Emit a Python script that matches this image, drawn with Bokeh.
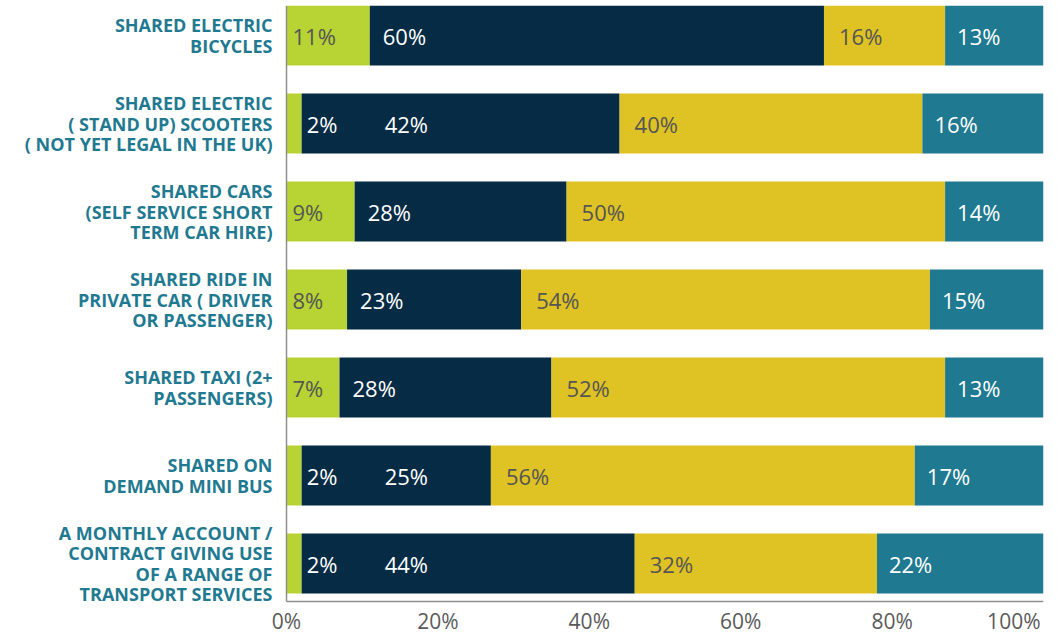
from bokeh.plotting import figure
from bokeh.models import ColumnDataSource, Range1d, FixedTicker
from bokeh.core.properties import value
from bokeh.embed import file_html
from bokeh.resources import INLINE

categories = [
    "SHARED ELECTRIC\nBICYCLES",
    "SHARED ELECTRIC\n( STAND UP) SCOOTERS\n( NOT YET LEGAL IN THE UK)",
    "SHARED CARS\n(SELF SERVICE SHORT\nTERM CAR HIRE)",
    "SHARED RIDE IN\nPRIVATE CAR ( DRIVER\nOR PASSENGER)",
    "SHARED TAXI (2+\nPASSENGERS)",
    "SHARED ON\nDEMAND MINI BUS",
    "A MONTHLY ACCOUNT /\nCONTRACT GIVING USE\nOF A RANGE OF\nTRANSPORT SERVICES",
]
series_a = [11, 2, 9, 8, 7, 2, 2]
series_b = [60, 42, 28, 23, 28, 25, 44]
series_c = [16, 40, 50, 54, 52, 56, 32]
series_d = [13, 16, 14, 15, 13, 17, 22]
tick_values = [0, 20, 40, 60, 80, 100]
tick_labels = ["0%", "20%", "40%", "60%", "80%", "100%"]

series = [series_a, series_b, series_c, series_d]
colors = ["#b7d434", "#052b45", "#dfc223", "#1f7991"]
text_colors = ["#555555", "#ffffff", "#555555", "#ffffff"]
offsets = [6, 13, 15, 12]

FONT = "Open Sans"
n = len(categories)
ys = list(range(n))
PX = 1 / 88.0            # one pixel in y data units
XPX = 100 / 757.0        # one pixel in x data units
Y_TOP = -30 * PX
Y_AXIS = n - 1 + 38 * PX  # bottom axis line position
Y_BOTTOM = Y_AXIS + 34 * PX
PAD_L = 20               # room left of 0% for its tick label

p = figure(frame_width=757 + PAD_L, frame_height=630,
           x_range=Range1d(-PAD_L * XPX, 100), y_range=Range1d(Y_BOTTOM, Y_TOP),
           output_backend="svg", toolbar_location=None,
           min_border_left=286 - PAD_L, min_border_right=12, min_border_top=5,
           min_border_bottom=0)
p.outline_line_color = None
p.xgrid.grid_line_color = None
p.ygrid.grid_line_color = None

# stacked bars
lefts = [0] * n
lab_x, lab_y, lab_t, lab_c, lab_o = [], [], [], [], []
for k, vals in enumerate(series):
    rights = [l + v for l, v in zip(lefts, vals)]
    src = ColumnDataSource(dict(y=ys, left=lefts, right=rights))
    p.hbar(y="y", left="left", right="right", height=60 * PX, source=src,
           fill_color=colors[k], line_color=None)
    for i in range(n):
        x = lefts[i]
        off = offsets[k]
        col = text_colors[k]
        if k == 0 and vals[i] < 5:
            x = rights[i]
            off = 5
            col = "#ffffff"
        if k == 1 and series_a[i] < 5:
            off = 83
        lab_x.append(x); lab_y.append(i); lab_t.append(f"{vals[i]}%")
        lab_c.append(col); lab_o.append(off)
    lefts = rights

vsrc = ColumnDataSource(dict(x=lab_x, y=lab_y, t=lab_t, c=lab_c, o=lab_o))
p.text(x="x", y="y", text="t", x_offset="o", text_color="c", source=vsrc,
       text_font=value(FONT), text_font_size="22px",
       text_align="left", text_baseline="middle")

# axis lines
p.segment(x0=[0, 0], y0=[Y_TOP, Y_AXIS], x1=[0, 100], y1=[Y_AXIS, Y_AXIS],
          line_color="#8f8f8f", line_width=1.5)

# x tick labels
tick_y = Y_AXIS + 5 * PX
p.text(x=tick_values[:-1], y=[tick_y] * (len(tick_values) - 1), text=tick_labels[:-1],
       text_font=value(FONT), text_font_size="21px", text_color="#5a5a5a",
       text_align="center", text_baseline="top")
p.text(x=[tick_values[-1]], y=[tick_y], text=[tick_labels[-1]], x_offset=-3,
       text_font=value(FONT), text_font_size="21px", text_color="#5a5a5a",
       text_align="right", text_baseline="top")
p.xaxis.visible = False

# y axis with category labels
p.yaxis.ticker = FixedTicker(ticks=ys)
p.yaxis.major_label_overrides = {i: c for i, c in zip(ys, categories)}
p.yaxis.major_tick_line_color = None
p.yaxis.minor_tick_line_color = None
p.yaxis.major_label_standoff = 8 - PAD_L
p.yaxis.major_label_text_font = FONT
p.yaxis.major_label_text_font_style = "bold"
p.yaxis.major_label_text_font_size = "18px"
p.yaxis.major_label_text_color = "#1f7a91"
p.yaxis.major_label_text_line_height = 0.85
p.yaxis.axis_line_color = None

open("out.html", "w").write(file_html(p, INLINE))
